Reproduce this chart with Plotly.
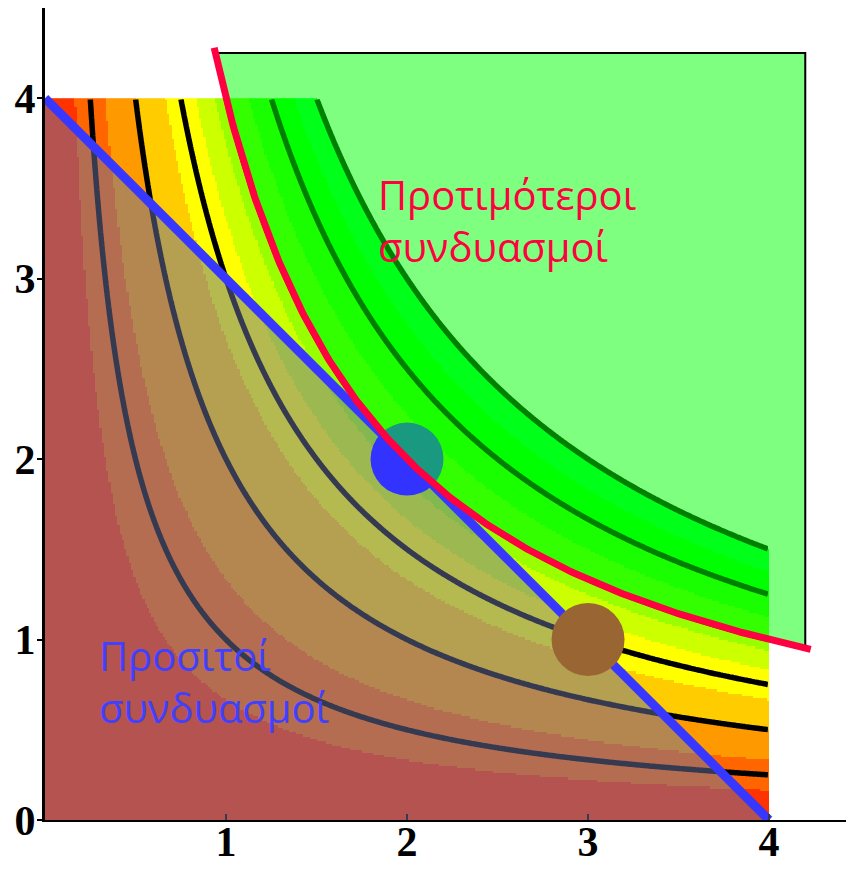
import numpy as np
import plotly.graph_objects as go

# Utility u(x, y) = x * y, budget x + y = 4
income = 4.0
price_x = 1.0
price_y = 1.0
indiff_level = 4.0                      # highlighted indifference curve
contour_levels = [1, 2, 3, 4, 5, 6]     # drawn indifference curves

# Filled utility bands (upper edge of fill = 6)
band_edges = [0, 2 / 3, 4 / 3, 2, 8 / 3, 10 / 3, 3.75, 4, 4.5, 5, 5.5, 6]
band_colors = ["#FF3300", "#FF6600", "#FF9900", "#FFCC00", "#FFFF00", "#CCFF00",
               "#99FF00", "#66FF00", "#33FF00", "#00FF00", "#00FF33"]

# Marked bundles
bundle_x = [2, 3]
bundle_y = [2, 1]
bundle_colors = ["rgb(51,51,255)", "rgb(153,102,51)"]

# Preferred-set box limits
pref_xmax = 4.2
pref_ymax = 4.25

xtick_vals = [1, 2, 3, 4]
ytick_vals = [0, 1, 2, 3, 4]


def utility(x, y):
    return x * y


# grid
n = 320
edges = np.linspace(0, income / price_x, n + 1)
centers = 0.5 * (edges[:-1] + edges[1:])
GX, GY = np.meshgrid(centers, centers)
U = utility(GX, GY)

band_idx = np.digitize(U, band_edges) - 1
Z = band_idx.astype(float) + 0.5
Z[U > band_edges[-1]] = np.nan

k = len(band_colors)
cscale = []
for i, c in enumerate(band_colors):
    cscale.append([i / k, c])
    cscale.append([(i + 1) / k, c])

fig = go.Figure()

fig.add_trace(go.Heatmap(
    x=edges, y=edges, z=Z, zmin=0, zmax=k, colorscale=cscale,
    showscale=False, zsmooth=False, hoverinfo="skip"))

fig.add_trace(go.Contour(
    x=centers, y=centers, z=U,
    contours=dict(coloring="none", start=contour_levels[0],
                  end=contour_levels[-1], size=1),
    line=dict(color="black", width=5.5, smoothing=0.6),
    showscale=False, hoverinfo="skip"))

# affordable set (budget triangle)
bx_max = income / price_x
by_max = income / price_y
fig.add_trace(go.Scatter(
    x=[0, bx_max, 0, 0], y=[0, 0, by_max, 0], mode="lines",
    fill="toself", fillcolor="rgba(106,116,160,0.5)",
    line=dict(width=0), hoverinfo="skip", showlegend=False))

# budget line
fig.add_trace(go.Scatter(
    x=[0, bx_max], y=[by_max, 0], mode="lines",
    line=dict(color="rgb(55,55,255)", width=9),
    hoverinfo="skip", showlegend=False))

# bundles
fig.add_trace(go.Scatter(
    x=bundle_x, y=bundle_y, mode="markers",
    marker=dict(size=73, color=bundle_colors, line=dict(width=0)),
    hoverinfo="skip", showlegend=False))

# preferred set: above the u = 4 curve
cx = np.linspace(indiff_level / pref_ymax, pref_xmax, 200)
cy = indiff_level / cx
poly_x = np.concatenate([cx, [pref_xmax, cx[0]]])
poly_y = np.concatenate([cy, [pref_ymax, pref_ymax]])
fig.add_trace(go.Scatter(
    x=poly_x, y=poly_y, mode="lines", fill="toself",
    fillcolor="rgba(0,255,0,0.5)", line=dict(color="black", width=2),
    hoverinfo="skip", showlegend=False))

# indifference curve u = 4
rx = np.linspace(indiff_level / 4.28, 4.23, 300)
fig.add_trace(go.Scatter(
    x=rx, y=indiff_level / rx, mode="lines",
    line=dict(color="rgb(255,0,64)", width=7),
    hoverinfo="skip", showlegend=False))

fig.add_annotation(
    x=1.83, y=3.32, xref="x", yref="y", xanchor="left", yanchor="middle",
    text="Προτιμότεροι<br>συνδυασμοί", showarrow=False, align="left",
    font=dict(family="Open Sans", size=40, color="rgb(255,0,64)"))
fig.add_annotation(
    x=0.29, y=0.765, xref="x", yref="y", xanchor="left", yanchor="middle",
    text="Προσιτοί<br>συνδυασμοί", showarrow=False, align="left",
    font=dict(family="Open Sans", size=40, color="rgb(64,64,255)"))

tickfont = dict(family="Liberation Serif", size=42, color="black", weight="bold")

fig.update_xaxes(
    range=[0, 4.425], showgrid=False, zeroline=False, showline=True,
    automargin=False,
    linecolor="black", linewidth=2, tickvals=xtick_vals,
    ticktext=[str(v) for v in xtick_vals], ticks="inside", ticklen=6,
    tickwidth=2, tickcolor="rgb(53,58,80)", tickfont=tickfont,
    ticklabelstandoff=-16)
fig.update_yaxes(
    range=[0, 4.5], showgrid=False, zeroline=False, showline=True,
    automargin=False,
    linecolor="black", linewidth=3, tickvals=ytick_vals,
    ticktext=[str(v) for v in ytick_vals], ticks="outside", ticklen=5,
    tickwidth=2, tickcolor="black", tickfont=tickfont,
    ticklabelstandoff=-7)

fig.update_layout(
    width=846, height=869,
    margin=dict(l=45, r=0, t=8, b=49),
    paper_bgcolor="white", plot_bgcolor="white",
    showlegend=False)

fig.write_html("out.html")
